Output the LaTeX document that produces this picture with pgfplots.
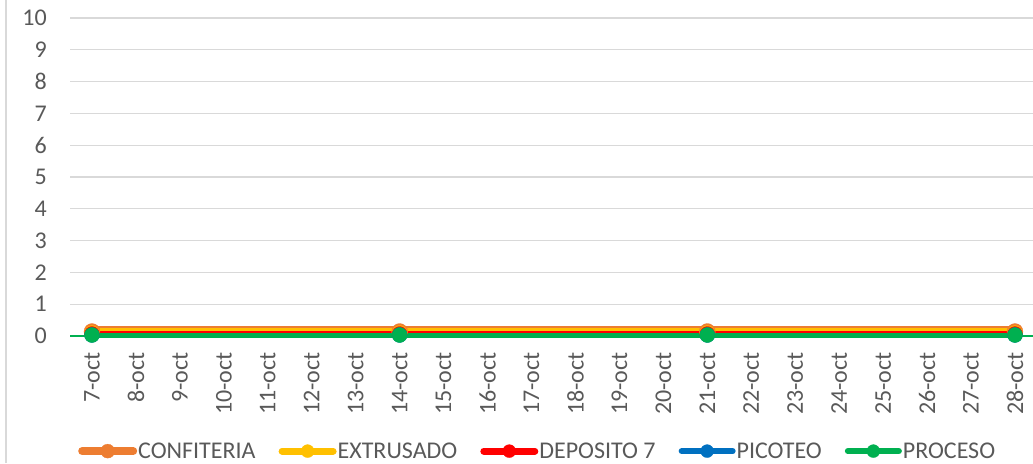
\documentclass[border=0pt]{standalone}
\usepackage{pgfplots}
\pgfplotsset{compat=1.18}
\usepackage{fontspec}
\setmainfont{Carlito}
\definecolor{cOr}{HTML}{ED7D31}
\definecolor{cYe}{HTML}{FFC000}
\definecolor{cRe}{HTML}{FF0000}
\definecolor{cBl}{HTML}{0070C0}
\definecolor{cGr}{HTML}{00B050}
\definecolor{gridc}{HTML}{D9D9D9}
\definecolor{textc}{HTML}{595959}
\begin{document}
\begin{tikzpicture}[x=1pt,y=1pt]
\path[use as bounding box] (0,0) rectangle (1033,463);
\draw[color=gridc, line width=1.3pt] (6,0) -- (6,463);
\begin{axis}[
  at={(70pt,127pt)}, anchor=south west,
  scale only axis, width=963pt, height=318pt,
  xmin=-0.5, xmax=21.41, ymin=0, ymax=10,
  clip=false,
  axis line style={draw=none},
  major tick length=0pt,
  ymajorgrids, grid style={color=gridc, line width=1.3pt},
  extra y ticks={0}, extra y tick labels={},
  extra y tick style={grid style={color=cGr, line width=1.5pt}},
  ytick={0,1,...,10},
  xtick={0,1,...,21},
  xticklabels={7-oct,8-oct,9-oct,10-oct,11-oct,12-oct,13-oct,14-oct,15-oct,16-oct,17-oct,18-oct,19-oct,20-oct,21-oct,22-oct,23-oct,24-oct,25-oct,26-oct,27-oct,28-oct},
  tick label style={font=\fontsize{24}{26}\selectfont, color=textc},
  /pgf/number format/assume math mode=true,
  yticklabel style={anchor=east, inner xsep=23pt, inner ysep=0pt},
  xticklabel style={rotate=90, anchor=east, inner xsep=16pt, inner ysep=0pt},
  legend columns=5,
  legend style={at={(0.0083,-0.362)}, anchor=west, draw=none, fill=none,
    inner sep=0pt, font=\fontsize{24}{24}\selectfont, text=textc,
    nodes={inner sep=0pt},
    /tikz/every odd column/.append style={column sep=1pt},
    /tikz/every even column/.append style={column sep=23pt}},
  legend image code/.code={
    \draw[#1, mark=none] (4pt,0pt) -- (55pt,0pt);
    \draw[#1, only marks] plot coordinates {(29.5pt,0pt)};
  },
]
\addplot[cOr, line width=12pt, line cap=round, mark=*, mark size=8pt,
  mark options={solid, line width=0.3pt}, yshift=4.5pt,
  legend image post style={yshift=-4.5pt, line width=8pt, mark size=7pt}]
  coordinates {(0,0) (7,0) (14,0) (21,0)};
\addlegendentry{CONFITERIA}
\addplot[cYe, line width=9.5pt, line cap=round, mark=*, mark size=7.5pt,
  mark options={solid, line width=0.3pt}, yshift=3pt,
  legend image post style={yshift=-3pt, line width=7pt, mark size=6.5pt}]
  coordinates {(0,0) (7,0) (14,0) (21,0)};
\addlegendentry{EXTRUSADO}
\addplot[cRe, line width=7pt, line cap=round, mark=*, mark size=7.5pt,
  mark options={solid, line width=0.3pt}, yshift=2pt,
  legend image post style={yshift=-2pt, line width=7pt, mark size=6.5pt}]
  coordinates {(0,0) (7,0) (14,0) (21,0)};
\addlegendentry{DEPOSITO 7}
\addplot[cBl, line width=5pt, line cap=round, mark=*, mark size=7.5pt,
  mark options={solid, line width=0.3pt}, yshift=1pt,
  legend image post style={yshift=-1pt, line width=6pt, mark size=6.5pt}]
  coordinates {(0,0) (7,0) (14,0) (21,0)};
\addlegendentry{PICOTEO}
\addplot[cGr, line width=5pt, line cap=round, mark=*, mark size=7.5pt,
  mark options={solid, line width=0.3pt}, yshift=1pt,
  legend image post style={yshift=-1pt, line width=6pt, mark size=6.5pt}]
  coordinates {(0,0) (7,0) (14,0) (21,0)};
\addlegendentry{PROCESO}
\end{axis}
\end{tikzpicture}
\end{document}
